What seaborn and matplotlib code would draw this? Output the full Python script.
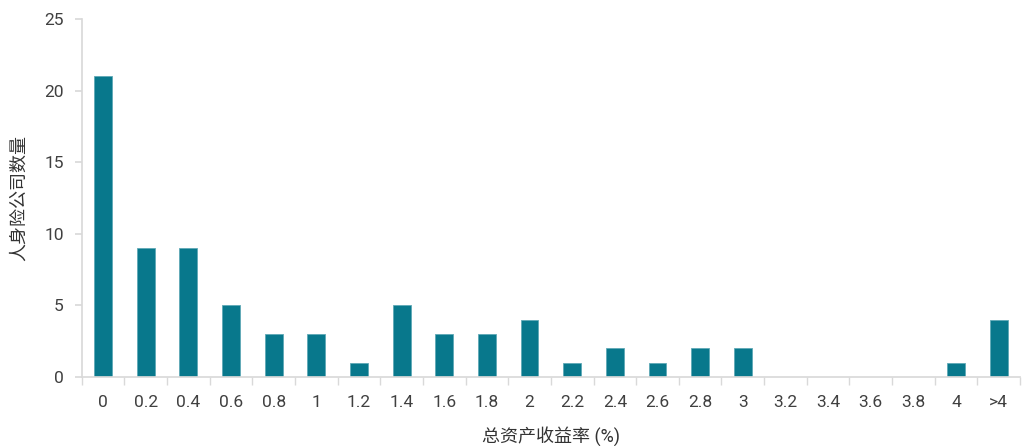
import matplotlib
matplotlib.use("Agg")
import matplotlib.pyplot as plt
import numpy as np
import pandas as pd
import seaborn as sns

# categories on the x axis (return on total assets, %)
categories = ["0", "0.2", "0.4", "0.6", "0.8", "1", "1.2", "1.4", "1.6", "1.8", "2",
              "2.2", "2.4", "2.6", "2.8", "3", "3.2", "3.4", "3.6", "3.8", "4", ">4"]
# number of life insurers in each bucket
counts = [21, 9, 9, 5, 3, 3, 1, 5, 3, 3, 4, 1, 2, 1, 2, 2, 0, 0, 0, 0, 1, 4]

df = pd.DataFrame({"roa": categories, "count": counts})

sns.set_theme(style="white")
plt.rcParams['font.family'] = ['Roboto', 'Noto Sans CJK SC', 'DejaVu Sans']

fig = plt.figure(figsize=(10.22, 4.46), dpi=100)
ax = fig.add_axes([0.080, 0.155, 0.918, 0.802])

sns.barplot(data=df, x="roa", y="count", color="#08788C", width=0.42,
            saturation=1, ax=ax, order=categories, edgecolor="#5FA9B6", linewidth=0.6)

ax.set_ylim(0, 25)
ax.set_yticks([0, 5, 10, 15, 20, 25])
ax.set_xlim(-0.5, len(categories) - 0.5)

grey = "#D9D9D9"
for side in ["top", "right"]:
    ax.spines[side].set_visible(False)
ax.spines["left"].set_color(grey)
ax.spines["bottom"].set_color(grey)

# tick marks sit between the categories
ax.set_xticks(np.arange(-0.5, len(categories), 1.0), minor=True)
ax.tick_params(axis="x", which="major", length=0, pad=13, labelsize=12.5, labelcolor="#404040")
ax.tick_params(axis="x", which="minor", length=6, color=grey, width=1, bottom=True)
ax.tick_params(axis="y", which="major", length=5, color=grey, left=True, labelsize=12.5,
               labelcolor="#404040", pad=8)

ax.set_xlabel("总资产收益率 (%)", fontsize=13, color="#333333", labelpad=12)
ax.set_ylabel("人身险公司数量", fontsize=13, color="#333333", labelpad=12)

fig.savefig("out.png", dpi=100)
